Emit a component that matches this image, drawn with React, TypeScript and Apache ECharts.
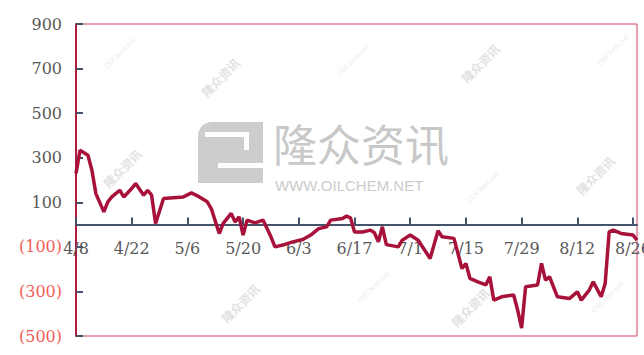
import React, { useEffect, useRef } from "react";
import * as echarts from "echarts";

const YEAR = 2024;
const START = "04-08";
const dates = [
  "04-08","04-09","04-11","04-12","04-13","04-15","04-16","04-17","04-19","04-20",
  "04-22","04-23","04-25","04-26","04-27","04-28","04-30","05-05","05-07","05-09",
  "05-11","05-12","05-14","05-15","05-17","05-18","05-19","05-20","05-21","05-23",
  "05-25","05-27","05-28","05-30","06-01","06-04","06-06","06-08","06-10","06-11",
  "06-14","06-15","06-16","06-17","06-19","06-21","06-22","06-23","06-24","06-25",
  "06-28","06-29","07-01","07-03","07-06","07-08","07-09","07-12","07-14","07-15",
  "07-16","07-18","07-20","07-21","07-22","07-24","07-27","07-28","07-29","07-30",
  "08-02","08-03","08-04","08-05","08-06","08-07","08-10","08-12","08-13","08-15",
  "08-16","08-18","08-19","08-20","08-21","08-23","08-26","08-27",
];
const values = [
  229,333,311,244,139,57,102,124,154,124,
  162,184,132,154,132,5,117,124,142,124,
  102,72,-40,5,50,12,35,-47,20,8,
  20,-55,-100,-92,-80,-67,-47,-18,-10,20,
  27,38,30,-33,-33,-25,-37,-77,-10,-90,
  -100,-70,-47,-70,-152,-28,-55,-62,-197,-175,
  -241,-257,-271,-234,-339,-324,-316,-383,-465,-279,
  -271,-174,-249,-234,-279,-324,-332,-302,-339,-294,
  -257,-324,-264,-33,-25,-40,-47,-70,
];
const yMin = -500;
const yMax = 900;
const yStep = 200;
const xStepDays = 14;
const xMaxDays = 141;

const watermarks = [
  { t: "OilChem.net", x: 120, y: 53 },
  { t: "隆众资讯", x: 220, y: 77 },
  { t: "OilChem.net", x: 353, y: 60 },
  { t: "隆众资讯", x: 480, y: 63 },
  { t: "OilChem.net", x: 613, y: 50 },
  { t: "隆众资讯", x: 122, y: 168 },
  { t: "OilChem.net", x: 483, y: 187 },
  { t: "隆众资讯", x: 595, y: 175 },
  { t: "隆众资讯", x: 240, y: 303 },
  { t: "OilChem.net", x: 373, y: 287 },
  { t: "隆众资讯", x: 470, y: 307 },
  { t: "OilChem.net", x: 607, y: 297 },
];

const DAY = 86400000;
function toMs(md: string) {
  const [m, d] = md.split("-").map(Number);
  return Date.UTC(YEAR, m - 1, d);
}
const startMs = toMs(START);

const GRID_TOP = 24;
const GRID_H = 312;

export default function App() {
  const ref = useRef<HTMLDivElement>(null);
  useEffect(() => {
    if (!ref.current) return;
    const chart = echarts.init(ref.current, null, { renderer: "svg" });
    const seriesData = dates.map((d, i) => [Math.round((toMs(d) - startMs) / DAY), values[i]]);
    const font = "DejaVu Serif";
    const zeroOffset = -GRID_H * (0 - yMin) / (yMax - yMin);
    const wmGraphics: any[] = watermarks.map((w) => ({
      type: "text",
      x: w.x,
      y: w.y,
      rotation: Math.PI / 4,
      z: 0,
      silent: true,
      style: {
        text: w.t,
        fill: w.t === "OilChem.net" ? "#ececec" : "#e2e2e2",
        font: w.t === "OilChem.net" ? "8px serif" : "bold 12px 'Noto Sans CJK SC'",
        textAlign: "center",
        textVerticalAlign: "middle",
      },
    }));
    const logo: any[] = [
      { type: "rect", z: 0, silent: true, shape: { x: 198, y: 122, width: 65, height: 61, r: [14, 0, 0, 0] }, style: { fill: "#cdcdcd" } },
      { type: "rect", z: 0, silent: true, shape: { x: 205, y: 132, width: 44, height: 5 }, style: { fill: "#ffffff" } },
      { type: "rect", z: 0, silent: true, shape: { x: 218, y: 163, width: 45, height: 5 }, style: { fill: "#ffffff" } },
      { type: "rect", z: 0, silent: true, shape: { x: 244, y: 132, width: 5, height: 18 }, style: { fill: "#ffffff" } },
      {
        type: "text", z: 0, silent: true, x: 273, y: 121,
        style: { text: "隆众资讯", fill: "#c8c8c8", font: "44px 'Noto Sans CJK SC'", lineHeight: 44, textVerticalAlign: "top" },
      },
      {
        type: "text", z: 0, silent: true, x: 275, y: 178,
        style: { text: "WWW.OILCHEM.NET", fill: "#cccccc", font: "15px 'Liberation Sans'", lineHeight: 15, textVerticalAlign: "top" },
      },
    ];
    chart.setOption({
      animation: false,
      backgroundColor: "#ffffff",
      graphic: { elements: [...wmGraphics, ...logo] },
      grid: {
        left: 76,
        top: GRID_TOP,
        width: 561,
        height: GRID_H,
        show: true,
        borderColor: "#d2405f",
        borderWidth: 1,
        backgroundColor: "transparent",
        containLabel: false,
        outerBoundsMode: "none",
      },
      xAxis: {
        type: "value",
        min: 0,
        max: xMaxDays,
        interval: xStepDays,
        position: "bottom",
        offset: zeroOffset,
        splitLine: { show: false },
        axisLine: { onZero: false, lineStyle: { color: "#44546a", width: 2 } },
        axisTick: { show: true, inside: true, length: 7, lineStyle: { color: "#44546a", width: 2 } },
        axisLabel: {
          margin: 16,
          color: "#595959",
          fontFamily: font,
          fontSize: 16,
          showMaxLabel: false,
          hideOverlap: false,
          formatter: (v: number) => {
            if (v % xStepDays !== 0) return "";
            const dt = new Date(startMs + v * DAY);
            return `${dt.getUTCMonth() + 1}/${dt.getUTCDate()}`;
          },
        },
      },
      yAxis: {
        type: "value",
        min: yMin,
        max: yMax,
        interval: yStep,
        splitLine: { show: false },
        axisLine: { show: true, onZero: false, lineStyle: { color: "#b01a40", width: 2 } },
        axisTick: { show: true, inside: true, length: 7, lineStyle: { color: "#44546a", width: 2 } },
        axisLabel: {
          margin: 14,
          fontFamily: font,
          fontSize: 16,
          color: (v: any) => (Number(v) < 0 ? "#f2605a" : "#595959"),
          formatter: (v: number) => (v < 0 ? `(${Math.abs(v)})` : `${v}`),
        },
      },
      series: [
        {
          type: "line",
          data: seriesData,
          showSymbol: false,
          symbol: "none",
          lineStyle: { color: "#a8123a", width: 3.5 },
          z: 5,
        },
      ],
    });
    return () => chart.dispose();
  }, []);
  return (
    <div
      ref={ref}
      style={{ position: "fixed", left: 0, top: 0, width: 644, height: 355, background: "#fff" }}
    />
  );
}
